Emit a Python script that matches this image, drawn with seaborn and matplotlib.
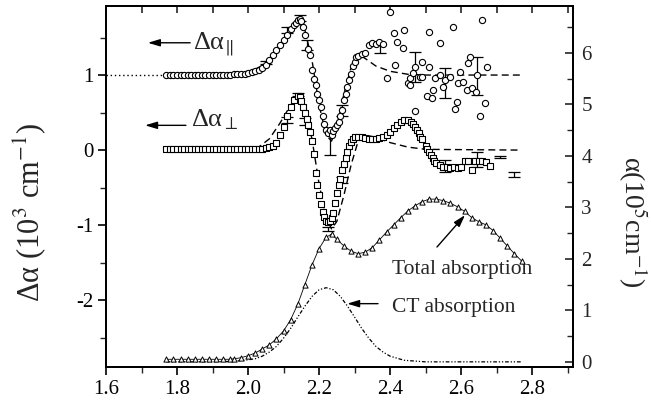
import numpy as np
import pandas as pd
import matplotlib
matplotlib.use("Agg")
import matplotlib.pyplot as plt
import seaborn as sns

# ---------------- data ----------------
# Delta alpha parallel (offset by +1), open circles
par_x = [1.77, 1.78, 1.79, 1.80, 1.81, 1.82, 1.83, 1.84, 1.85, 1.86, 1.87, 1.88,
         1.89, 1.90, 1.91, 1.92, 1.93, 1.94, 1.95, 1.96, 1.97, 1.98, 1.99, 2.00,
         2.01, 2.02, 2.03, 2.04, 2.05, 2.06, 2.07, 2.08, 2.09, 2.10, 2.11, 2.12,
         2.13, 2.135, 2.14, 2.145, 2.15, 2.155, 2.16, 2.17, 2.175, 2.18, 2.185,
         2.19, 2.195, 2.20, 2.205, 2.21, 2.215, 2.22, 2.225, 2.23, 2.235, 2.24,
         2.245, 2.25, 2.255, 2.26, 2.265, 2.27, 2.275, 2.28, 2.285, 2.29, 2.295,
         2.30, 2.305, 2.31, 2.32, 2.33, 2.34, 2.35, 2.36, 2.37, 2.38, 2.39, 2.40,
         2.41, 2.414, 2.42, 2.437, 2.44, 2.45, 2.455, 2.456, 2.465, 2.47, 2.47,
         2.485, 2.49, 2.49, 2.505, 2.51, 2.51, 2.518, 2.52, 2.527, 2.54, 2.54,
         2.55, 2.555, 2.57, 2.578, 2.583, 2.589, 2.59, 2.597, 2.605, 2.617, 2.62,
         2.625, 2.63, 2.642, 2.645, 2.653, 2.66, 2.668, 2.673]
par_y = [1.00, 1.00, 1.00, 1.00, 1.00, 1.00, 1.00, 1.00, 1.00, 1.00, 1.00, 1.00,
         1.00, 1.00, 1.00, 1.00, 1.00, 1.00, 1.00, 1.01, 1.01, 1.02, 1.02, 1.03,
         1.04, 1.05, 1.07, 1.10, 1.14, 1.20, 1.27, 1.33, 1.40, 1.47, 1.54, 1.61,
         1.67, 1.70, 1.73, 1.75, 1.72, 1.64, 1.53, 1.35, 1.27, 1.07, 0.95,
         0.87, 0.75, 0.67, 0.57, 0.45, 0.35, 0.27, 0.23, 0.27, 0.20, 0.26,
         0.30, 0.33, 0.38, 0.45, 0.53, 0.67, 0.75, 0.84, 0.93, 1.02, 1.12,
         1.18, 1.24, 1.25, 1.28, 1.29, 1.40, 1.43, 1.42, 1.44, 1.41, 0.96, 1.84,
         1.56, 1.13, 1.44, 1.36, 1.60, 0.89, 0.87, 0.96, 1.03, 1.11, 0.52,
         0.97, 1.17, 0.97, 0.72, 1.57, 1.11, 0.69, 0.80, 0.96, 1.43, 1.00,
         0.84, 0.93, 0.97, 1.64, 0.55, 0.64, 0.89, 1.04, 0.91, 0.80, 1.16,
         1.24, 0.83, 0.77, 1.00, 0.45, 1.73, 0.63, 1.11]

# Delta alpha perpendicular, open squares
per_x = [1.77, 1.78, 1.79, 1.80, 1.81, 1.82, 1.83, 1.84, 1.85, 1.86, 1.87, 1.88,
         1.89, 1.90, 1.91, 1.92, 1.93, 1.94, 1.95, 1.96, 1.97, 1.98, 1.99, 2.00,
         2.01, 2.02, 2.03, 2.04, 2.05, 2.06, 2.07, 2.08, 2.09, 2.10, 2.11, 2.12,
         2.13, 2.14, 2.145, 2.15, 2.155, 2.16, 2.165, 2.17, 2.175, 2.18, 2.185,
         2.19, 2.195, 2.20, 2.205, 2.21, 2.215, 2.22, 2.225, 2.23, 2.235, 2.24,
         2.245, 2.25, 2.255, 2.26, 2.265, 2.27, 2.275, 2.28, 2.285, 2.29, 2.295,
         2.30, 2.31, 2.32, 2.33, 2.34, 2.35, 2.36, 2.37, 2.38, 2.39, 2.40, 2.41,
         2.42, 2.43, 2.44, 2.45, 2.46, 2.465, 2.47, 2.475, 2.48, 2.485, 2.49,
         2.50, 2.505, 2.51, 2.515, 2.52, 2.525, 2.53, 2.54, 2.55, 2.56, 2.57,
         2.58, 2.59, 2.60, 2.61, 2.62, 2.63, 2.635, 2.64, 2.65, 2.66, 2.67, 2.68]
per_y = [0.02, 0.02, 0.02, 0.02, 0.02, 0.02, 0.02, 0.02, 0.02, 0.02, 0.02, 0.02,
         0.02, 0.02, 0.02, 0.02, 0.02, 0.02, 0.02, 0.02, 0.02, 0.02, 0.02, 0.02,
         0.02, 0.02, 0.02, 0.02, 0.03, 0.04, 0.06, 0.10, 0.20, 0.31, 0.45, 0.58,
         0.67, 0.72, 0.71, 0.66, 0.58, 0.49, 0.41, 0.33, 0.24, 0.12, -0.05,
         -0.30, -0.47, -0.60, -0.72, -0.82, -0.89, -0.94, -0.96, -0.94, -0.90, -0.84,
         -0.71, -0.57, -0.47, -0.38, -0.27, -0.18, -0.10, -0.02, 0.06, 0.11, 0.15,
         0.17, 0.18, 0.17, 0.16, 0.15, 0.15, 0.15, 0.16, 0.17, 0.20, 0.24, 0.29,
         0.34, 0.38, 0.40, 0.40, 0.38, 0.35, 0.31, 0.27, 0.23, 0.18, 0.15,
         0.05, 0.02, -0.03, -0.07, -0.10, -0.14, -0.17, -0.20, -0.22, -0.23, -0.24,
         -0.23, -0.24, -0.23, -0.15, -0.14, -0.27, -0.15, -0.14, -0.15, -0.14, -0.16, -0.21]

# fits (dashed)
fit_par_x = [1.77, 1.95, 2.00, 2.05, 2.08, 2.11, 2.14, 2.16, 2.18, 2.20, 2.22,
             2.235, 2.25, 2.27, 2.29, 2.31, 2.33, 2.36, 2.40, 2.45, 2.50, 2.77]
fit_par_y = [1.00, 1.00, 1.03, 1.15, 1.30, 1.55, 1.72, 1.60, 1.20, 0.60, 0.20,
             0.12, 0.30, 0.75, 1.10, 1.28, 1.22, 1.12, 1.05, 1.01, 1.00, 1.00]
fit_per_x = [1.77, 2.00, 2.03, 2.06, 2.09, 2.12, 2.14, 2.16, 2.18, 2.20, 2.22,
             2.235, 2.25, 2.27, 2.29, 2.31, 2.33, 2.36, 2.40, 2.45, 2.50, 2.77]
fit_per_y = [0.00, 0.00, 0.04, 0.15, 0.36, 0.60, 0.72, 0.55, 0.15, -0.45, -0.90,
             -1.05, -0.95, -0.60, -0.20, 0.12, 0.20, 0.17, 0.10, 0.04, 0.01, 0.00]

# total absorption (right axis), triangles
tot_x = [1.77, 1.79, 1.81, 1.83, 1.85, 1.87, 1.89, 1.91, 1.93, 1.95, 1.96, 1.98,
         2.00, 2.02, 2.04, 2.06, 2.08, 2.10, 2.12, 2.14, 2.16, 2.18, 2.20, 2.22,
         2.235, 2.25, 2.27, 2.29, 2.31, 2.33, 2.35, 2.37, 2.39, 2.41, 2.43, 2.45,
         2.47, 2.49, 2.51, 2.53, 2.55, 2.57, 2.59, 2.61, 2.63, 2.65, 2.67, 2.69,
         2.71, 2.73, 2.75, 2.77]
tot_y = [0.05, 0.05, 0.05, 0.05, 0.05, 0.05, 0.05, 0.05, 0.05, 0.05, 0.06, 0.08,
         0.12, 0.17, 0.25, 0.33, 0.45, 0.60, 0.82, 1.12, 1.50, 1.88, 2.20, 2.42,
         2.48, 2.38, 2.25, 2.15, 2.10, 2.13, 2.22, 2.37, 2.52, 2.66, 2.80, 2.93,
         3.03, 3.11, 3.16, 3.16, 3.13, 3.08, 3.01, 2.92, 2.80, 2.72, 2.66, 2.55,
         2.40, 2.25, 2.10, 1.96]

# CT absorption (right axis), dash-dot
ct_x = [1.77, 1.90, 1.96, 2.00, 2.02, 2.04, 2.06, 2.08, 2.10, 2.12, 2.14, 2.16,
        2.18, 2.20, 2.22, 2.24, 2.26, 2.28, 2.30, 2.32, 2.34, 2.36, 2.38, 2.40,
        2.44, 2.50, 2.60, 2.77]
ct_y = [0.00, 0.00, 0.01, 0.04, 0.06, 0.11, 0.19, 0.30, 0.46, 0.65, 0.87, 1.08,
        1.27, 1.40, 1.44, 1.40, 1.27, 1.08, 0.87, 0.65, 0.46, 0.30, 0.19, 0.11,
        0.03, 0.00, 0.00, 0.00]

# error bars
err_par_x = [2.05, 2.11, 2.145, 2.165, 2.23, 2.265, 2.372, 2.47, 2.555, 2.645]
err_par_y = [1.17, 1.60, 1.76, 1.40, 0.11, 0.53, 1.36, 1.11, 0.90, 0.99]
err_par_e = [0.02, 0.04, 0.04, 0.07, 0.18, 0.07, 0.07, 0.20, 0.20, 0.25]
err_per_x = [2.11, 2.14, 2.16, 2.225, 2.265, 2.555, 2.645, 2.71, 2.75]
err_per_y = [0.40, 0.74, 0.38, -1.05, -0.40, -0.21, -0.13, -0.09, -0.325]
err_per_e = [0.04, 0.02, 0.05, 0.03, 0.04, 0.08, 0.10, 0.01, 0.035]

ref_x = [1.6, 1.77]
ref_y = [1.0, 1.0]

# ---------------- style ----------------
sns.set_theme(style="ticks")
plt.rcParams["font.family"] = ["Liberation Serif", "DejaVu Serif"]
plt.rcParams["mathtext.fontset"] = "stix"
plt.rcParams["axes.linewidth"] = 1.4

fig = plt.figure(figsize=(6.51, 4.05), dpi=100)
L, R, T, B = 106, 573, 6, 367
ax = fig.add_axes([L / 651, 1 - B / 405, (R - L) / 651, (B - T) / 405])
ax2 = ax.twinx()

k = "black"
# fits
sns.lineplot(x=fit_par_x, y=fit_par_y, ax=ax, color=k, lw=1.0, linestyle=(0, (5, 3)),
             estimator=None, sort=False)
sns.lineplot(x=fit_per_x, y=fit_per_y, ax=ax, color=k, lw=1.0, linestyle=(0, (5, 3)),
             estimator=None, sort=False)
sns.lineplot(x=ref_x, y=ref_y, ax=ax, color=k, lw=1.0, linestyle=(0, (1, 2)),
             estimator=None, sort=False)

ax.errorbar(err_par_x, err_par_y, yerr=err_par_e, fmt="none", ecolor=k,
            elinewidth=0.9, capsize=4.5, capthick=0.9, zorder=3)
ax.errorbar(err_per_x, err_per_y, yerr=err_per_e, fmt="none", ecolor=k,
            elinewidth=0.9, capsize=4.5, capthick=0.9, zorder=3)

sns.scatterplot(x=par_x, y=par_y, ax=ax, marker="o", s=20, color="white",
                edgecolor=k, linewidth=0.8, zorder=4)
sns.scatterplot(x=per_x, y=per_y, ax=ax, marker="s", s=14, color="white",
                edgecolor=k, linewidth=0.8, zorder=4)

# right axis
sns.lineplot(x=tot_x, y=tot_y, ax=ax2, color=k, lw=0.6, estimator=None, sort=False)
sns.scatterplot(x=tot_x, y=tot_y, ax=ax2, marker="^", s=14, color="white",
                edgecolor=k, linewidth=0.7, zorder=4)
sns.lineplot(x=ct_x, y=ct_y, ax=ax2, color=k, lw=0.9, linestyle=(0, (3, 1.5, 1, 1.5, 1, 1.5)),
             estimator=None, sort=False)

# axes ranges and ticks
ax.set_xlim(1.6, 2.915)
ax.set_ylim(-2.89, 1.92)
ax2.set_ylim(-0.1, 6.91)
ax.set_xticks([1.6, 1.8, 2.0, 2.2, 2.4, 2.6, 2.8])
ax.set_xticklabels(["1.6", "1.8", "2.0", "2.2", "2.4", "2.6", "2.8"])
ax.set_xticks(np.arange(1.7, 2.91, 0.2), minor=True)
ax.set_yticks([-2, -1, 0, 1])
ax.set_yticklabels(["-2", "-1", "0", "1"])
ax.set_yticks([-2.5, -1.5, -0.5, 0.5, 1.5], minor=True)
ax2.set_yticks([0, 1, 2, 3, 4, 5, 6])
ax2.set_yticklabels(["0", "1", "2", "3", "4", "5", "6"])
ax2.set_yticks([0.5, 1.5, 2.5, 3.5, 4.5, 5.5, 6.5], minor=True)

ax.tick_params(axis="both", which="major", direction="out", length=6, width=1.2,
               labelsize=15, pad=3, colors=k)
ax.tick_params(axis="both", which="minor", direction="out", length=4, width=1.0)
ax2.tick_params(axis="y", which="major", direction="in", length=6, width=1.2,
                labelsize=15, pad=6)
ax2.tick_params(axis="y", which="minor", direction="in", length=4, width=1.0)

top = ax.secondary_xaxis("top")
top.set_xticks(np.arange(1.7, 2.91, 0.1))
top.tick_params(direction="in", length=5, width=1.2, labeltop=False)
top.set_xticklabels([])

for a in (ax, ax2):
    for s in a.spines.values():
        s.set_visible(True)
        s.set_linewidth(1.4)
        s.set_color(k)
ax.set_xlabel("")
ax.set_ylabel("")
ax2.set_ylabel("")

# labels
fig.text(30 / 651, 1 - 212 / 405, r"Δα (10$^3$ cm$^{-1}$)", rotation=90,
         ha="center", va="center", fontsize=22)
fig.text(633 / 651, 1 - 222 / 405, r"α(10$^5$cm$^{-1}$)", rotation=270,
         ha="center", va="center", fontsize=20)

# annotations
arw = dict(arrowstyle="-|>,head_length=0.6,head_width=0.18", color=k, lw=1.0,
           shrinkA=0, shrinkB=0)
ax.annotate("", xy=(1.718, 1.43), xytext=(1.837, 1.43), arrowprops=arw)
ax.text(1.845, 1.40, r"Δα$_{\|}$", fontsize=19, ha="left", va="center")
ax.annotate("", xy=(1.710, 0.33), xytext=(1.825, 0.33), arrowprops=arw)
ax.text(1.84, 0.40, r"Δα$_{\perp}$", fontsize=19, ha="left", va="center")

ax2.annotate("", xy=(2.611, 2.85), xytext=(2.532, 2.23), arrowprops=arw)
ax2.text(2.406, 1.79, "Total absorption", fontsize=15.5, ha="left", va="center")
ax2.annotate("", xy=(2.279, 1.13), xytext=(2.366, 1.13), arrowprops=arw)
ax2.text(2.406, 1.05, "CT absorption", fontsize=15.5, ha="left", va="center")

fig.savefig("out.png", dpi=100, facecolor="white")
